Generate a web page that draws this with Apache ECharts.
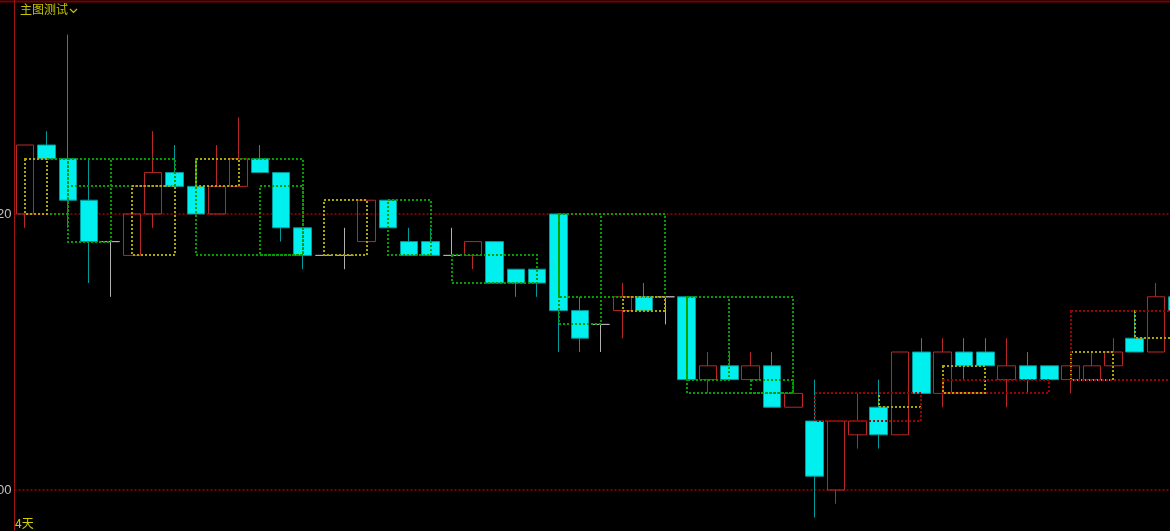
<!DOCTYPE html>
<html>
<head>
<meta charset="utf-8">
<script src="https://cdn.jsdelivr.net/npm/echarts@6/dist/echarts.min.js"></script>
<style>
html, body { margin: 0; padding: 0; background: #000; }
#chart { width: 1170px; height: 531px; }
</style>
</head>
<body>
<div id="chart"></div>
<script>
// K线数据
var categories = ['01', '02', '03', '04', '05', '06', '07', '08', '09', '10',
  '11', '12', '13', '14', '15', '16', '17', '18', '19', '20',
  '21', '22', '23', '24', '25', '26', '27', '28', '29', '30',
  '31', '32', '33', '34', '35', '36', '37', '38', '39', '40',
  '41', '42', '43', '44', '45', '46', '47', '48', '49', '50',
  '51', '52', '53', '54', '55']
var opens = [3820, 3825, 3824, 3821, 3818, 3817, 3820, 3823, 3822, 3820,
  3822, 3824, 3823, 3819, 3817, 3817, 3818, 3821, 3818, 3818,
  3817, 3817, 3818, 3816, 3816, 3820, 3813, 3812, 3813, 3814,
  3814, 3814, 3808, 3809, 3808, 3809, 3806, 3805, 3800, 3804,
  3806, 3804, 3810, 3807, 3810, 3810, 3808, 3809, 3809, 3808,
  3808, 3809, 3811, 3810, 3814]
var closes = [3825, 3824, 3821, 3818, 3818, 3820, 3823, 3822, 3820, 3822,
  3824, 3823, 3819, 3817, 3817, 3817, 3821, 3819, 3817, 3817,
  3817, 3818, 3815, 3815, 3815, 3813, 3811, 3812, 3814, 3813,
  3814, 3808, 3809, 3808, 3809, 3806, 3807, 3801, 3805, 3805,
  3804, 3810, 3807, 3810, 3809, 3809, 3809, 3808, 3808, 3809,
  3809, 3810, 3810, 3814, 3813]
var lows = [3819, 3824, 3819, 3815, 3814, 3817, 3819, 3822, 3820, 3820,
  3822, 3823, 3818, 3816, 3817, 3816, 3818, 3819, 3817, 3817,
  3817, 3816, 3815, 3814, 3814, 3810, 3810, 3810, 3811, 3813,
  3812, 3808, 3807, 3808, 3808, 3806, 3806, 3798, 3799, 3803,
  3803, 3804, 3807, 3806, 3808, 3809, 3806, 3807, 3808, 3807,
  3808, 3809, 3810, 3810, 3813]
var highs = [3825, 3826, 3833, 3824, 3818, 3820, 3826, 3825, 3822, 3825,
  3827, 3825, 3823, 3819, 3817, 3819, 3821, 3821, 3819, 3819,
  3819, 3818, 3818, 3816, 3816, 3820, 3814, 3812, 3815, 3815,
  3814, 3814, 3810, 3810, 3810, 3810, 3808, 3808, 3805, 3807,
  3808, 3810, 3811, 3811, 3811, 3811, 3811, 3810, 3809, 3809,
  3810, 3811, 3813, 3815, 3814]

// 箱体: [起始K线, 结束K线, 上沿, 下沿]
var greenBoxes = [
  [1, 2, 3824, 3820], [2, 4, 3824, 3818], [2, 7, 3824, 3822],
  [8, 13, 3824, 3817], [11, 13, 3822, 3817],
  [17, 19, 3821, 3817], [20, 24, 3817, 3815],
  [25, 30, 3820, 3814], [25, 27, 3820, 3812],
  [31, 36, 3814, 3807], [31, 33, 3814, 3808], [34, 36, 3808, 3807]
]
var yellowBoxes = [
  [0, 1, 3824, 3820], [5, 7, 3822, 3817], [8, 10, 3824, 3822],
  [14, 16, 3821, 3817], [28, 30, 3814, 3813],
  [40, 42, 3807, 3806], [43, 45, 3809, 3807],
  [49, 51, 3810, 3808], [52, 54, 3813, 3811]
]
var redBoxes = [
  [37, 42, 3807, 3805], [43, 48, 3808, 3807], [49, 54, 3813, 3808]
]
var yTicks = [3780, 3800, 3820, 3840]

var chart = echarts.init(document.getElementById('chart'))

// 虚线箱体
function boxRender(color) {
  return function(params, api) {
    var p1 = api.coord([api.value(0), api.value(2)])
    var p2 = api.coord([api.value(1), api.value(3)])
    var x1 = Math.round(p1[0])
    var y1 = Math.round(p1[1])
    var x2 = Math.round(p2[0])
    var y2 = Math.round(p2[1])
    return {
      type: 'rect',
      shape: { x: x1, y: y1, width: x2 - x1, height: y2 - y1 },
      style: { fill: 'none', stroke: color, lineWidth: 2, lineDash: [2, 2] }
    }
  }
}

function boxSeries(data, color) {
  return {
    type: 'custom',
    z: 5,
    renderItem: boxRender(color),
    encode: { x: [0, 1], y: [2, 3] },
    data: data,
    silent: true
  }
}

var kData = categories.map(function(c, i) {
  return [opens[i], closes[i], lows[i], highs[i]]
})

var option = {
  backgroundColor: '#000000',
  animation: false,
  grid: {
    left: 14.5,
    right: -18,
    top: -62,
    bottom: -235,
    outerBoundsMode: 'none'
  },
  xAxis: {
    type: 'category',
    data: categories,
    axisLine: { show: false },
    axisTick: { show: false },
    axisLabel: { show: false },
    splitLine: { show: false }
  },
  yAxis: {
    type: 'value',
    min: yTicks[0],
    max: yTicks[yTicks.length - 1],
    interval: 20,
    axisLine: { show: true, lineStyle: { color: '#a01414', width: 1 } },
    axisTick: { show: false },
    axisLabel: {
      color: '#c0c0c0',
      fontSize: 13,
      margin: 3,
      fontFamily: 'Liberation Sans'
    },
    splitLine: { show: true, lineStyle: { color: '#7c0000', type: [2, 2], width: 2 } }
  },
  series: [
    {
      type: 'candlestick',
      data: kData,
      barWidth: 18,
      z: 2,
      itemStyle: {
        color: 'rgba(0,0,0,0)',
        color0: '#00f0f0',
        borderColor: '#b82828',
        borderColor0: '#009a9a',
        borderColorDoji: '#b0b0b0',
        borderWidth: 1
      }
    },
    boxSeries(greenBoxes, '#00a000'),
    boxSeries(yellowBoxes, '#a8a800'),
    boxSeries(redBoxes, '#9c0000')
  ],
  graphic: [
    {
      type: 'line',
      shape: { x1: 0, y1: 1.5, x2: 1170, y2: 1.5 },
      style: { stroke: '#7a0000', lineWidth: 2 }
    },
    {
      type: 'text',
      left: 20,
      top: 3,
      style: { text: '主图测试', fill: '#c4c400', font: '12px "Noto Sans CJK SC"' }
    },
    {
      type: 'polyline',
      shape: { points: [[70, 9], [73.5, 12.5], [77, 9]] },
      style: { stroke: '#c4c400', lineWidth: 1.2, fill: 'none' }
    },
    {
      type: 'text',
      left: 15,
      top: 517,
      style: { text: '4天', fill: '#d0d000', font: '12px "Noto Sans CJK SC"' }
    }
  ]
}
chart.setOption(option)
</script>
</body>
</html>
